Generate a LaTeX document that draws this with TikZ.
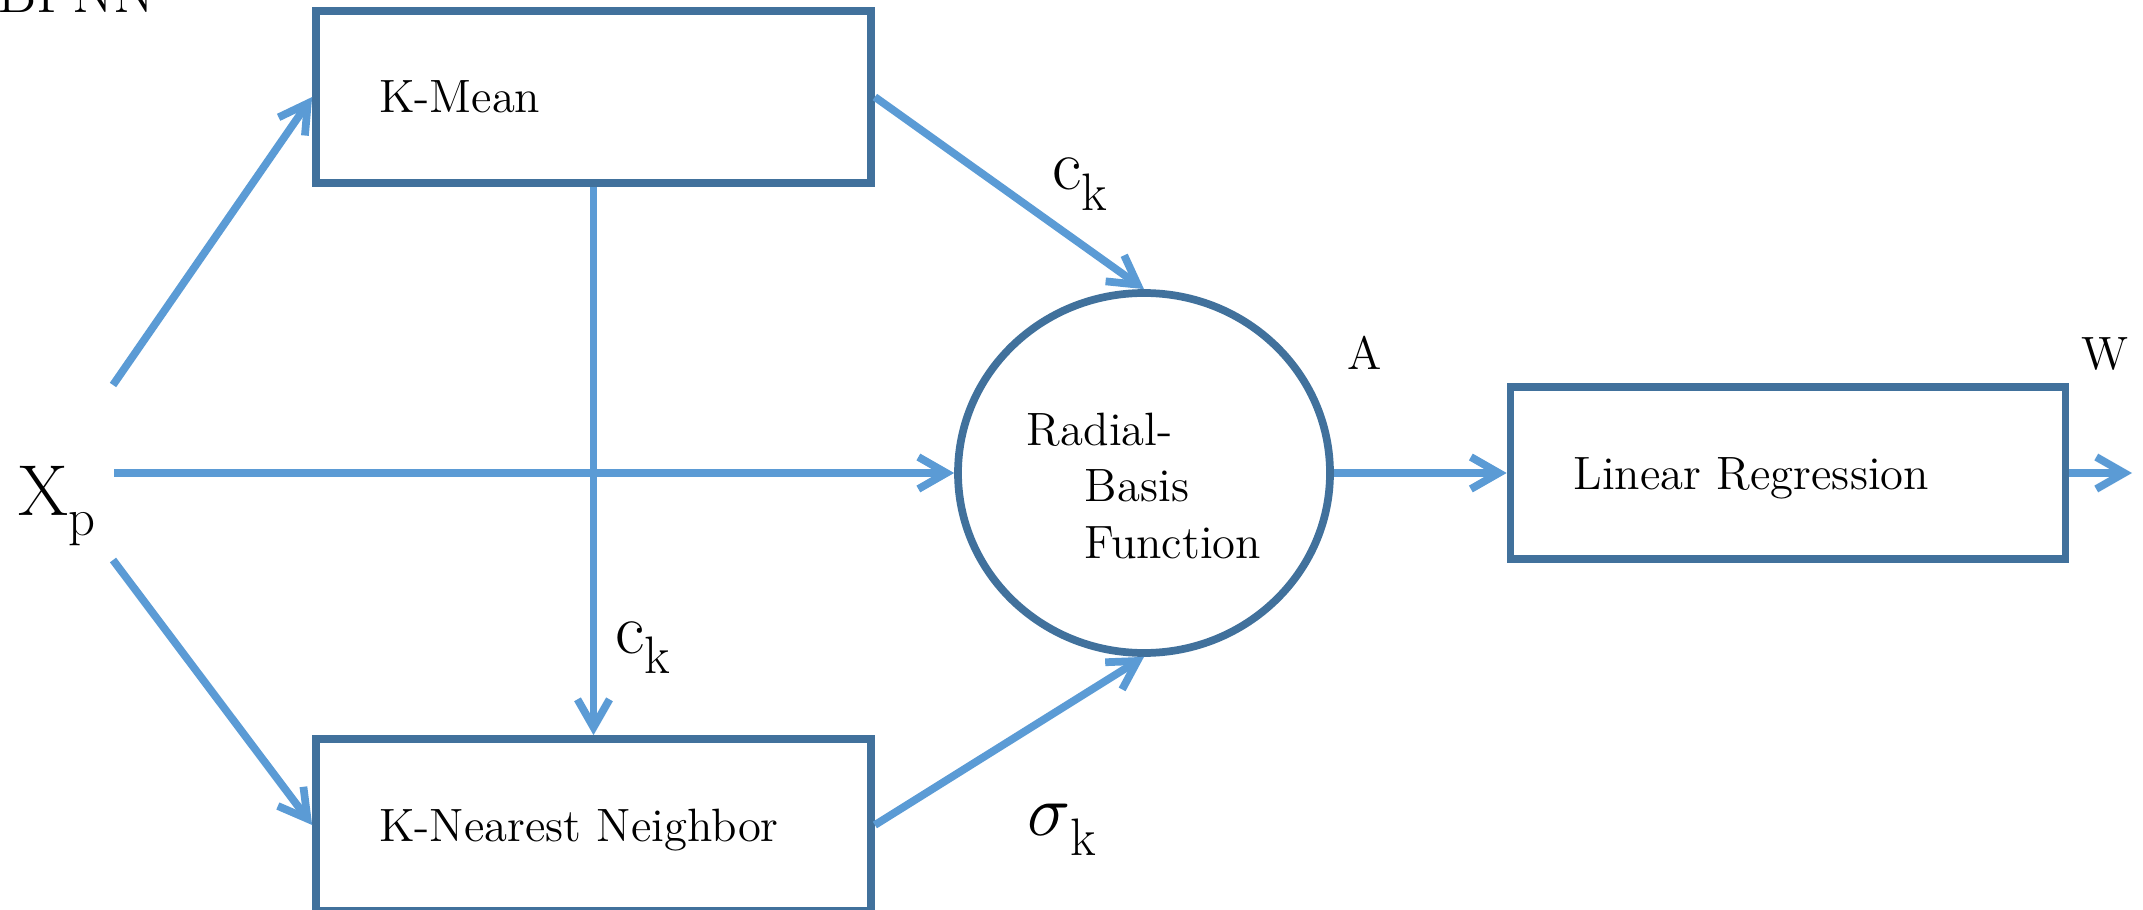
\documentclass[tikz,border=0pt]{standalone}
\usepackage{tikz}
\usetikzlibrary{arrows.meta,shapes.geometric}
\definecolor{boxblue}{HTML}{41719C}
\definecolor{linkblue}{HTML}{5B9BD5}

\begin{document}
\begin{tikzpicture}[>={Straight Barb[length=2.8mm,width=3.2mm]},
  blk/.style={draw=boxblue,line width=2.2pt,minimum height=1.72cm,text width=4.29cm,
    text height=0.32cm,text depth=0pt,inner xsep=0.63cm,inner ysep=0pt,align=left,
    font=\fontsize{13.3}{16}\selectfont},
  rbfcirc/.style={ellipse,draw=boxblue,line width=2.2pt,minimum width=3.72cm,minimum height=3.6cm,
    inner sep=0pt,align=left,font=\fontsize{13.3}{16}\selectfont},
  link/.style={->,draw=linkblue,line width=2.2pt},
  lbl/.style={inner sep=0pt,font=\fontsize{20.5}{24}\selectfont},
  small/.style={inner sep=0pt,font=\fontsize{13.3}{16}\selectfont}]
  \useasboundingbox (0,0) rectangle (21.43,9.09);
  \node[anchor=base west,inner sep=0pt,font=\fontsize{17}{20}\selectfont] (title) at (-0.44,8.96) {RBFNN};

  % blocks
  \node[blk] (kmean) at (5.935,8.12) {K-Mean};
  \node[blk] (knn) at (5.935,0.84) {K-Nearest Neighbor};
  \node[rbfcirc] (rbf) at (11.44,4.36) {\rule{0pt}{0.58cm}Radial-\\\hspace*{0.58cm}Basis\\\hspace*{0.58cm}Function};
  \node[blk] (linreg) at (17.88,4.36) {Linear Regression};

  % input and output
  \node[lbl,anchor=base west] (xp) at (0.18,3.94) {X\raisebox{-0.28em}{\fontsize{15}{18}\selectfont p}};
  \coordinate (xin1) at (1.13,5.24);
  \coordinate (xin2) at (1.14,4.36);
  \coordinate (xin3) at (1.13,3.49);
  \coordinate (yout) at (21.32,4.36);

  \draw[link] (xin1) -- (kmean.west);
  \draw[link] (xin2) -- (rbf.west);
  \draw[link] (xin3) -- (knn.west);
  \draw[link] (kmean.south) -- (knn.north);
  \draw[link] (kmean.east) -- (rbf.north);
  \draw[link] (knn.east) -- (rbf.south);
  \draw[link] (rbf.east) -- (linreg.west);
  \draw[link] (linreg.east) -- (yout);

  % labels
  \node[lbl,anchor=base west] (ck1) at (10.52,7.19) {c\raisebox{-0.28em}{\fontsize{15}{18}\selectfont k}};
  \node[lbl,anchor=base west] (ck2) at (6.15,2.56) {c\raisebox{-0.28em}{\fontsize{15}{18}\selectfont k}};
  \node[lbl,anchor=base west] (sk) at (10.27,0.74) {$\sigma$\raisebox{-0.28em}{\fontsize{15}{18}\selectfont k}};
  \node[small,anchor=base] (alabel) at (13.65,5.39) {A};
  \node[small,anchor=base] (wlabel) at (21.05,5.39) {W};
\end{tikzpicture}
\end{document}
